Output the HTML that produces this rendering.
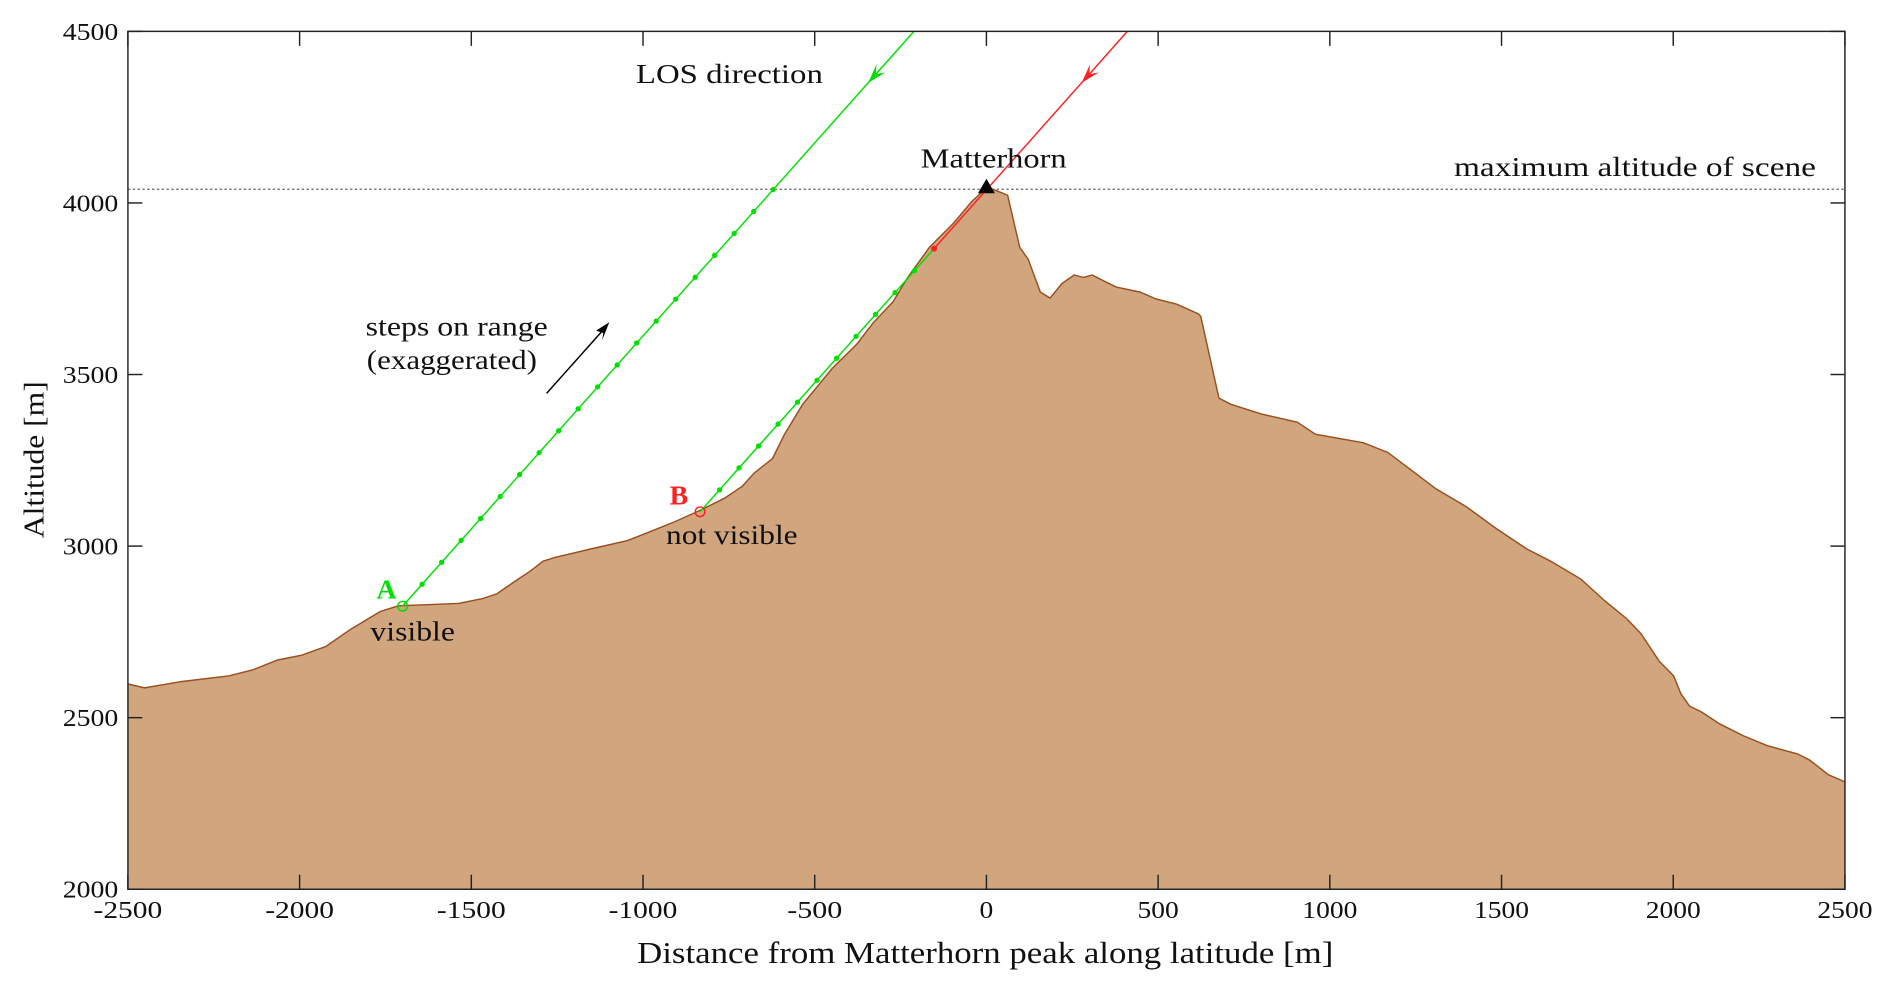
<!DOCTYPE html>
<html><head><meta charset="utf-8"><style>
html,body{margin:0;padding:0;background:#fff;}
svg{display:block;font-family:"Liberation Serif",serif;}
</style></head><body>
<svg id="chart" width="1892" height="990" viewBox="0 0 1568 820.5" preserveAspectRatio="none" xmlns="http://www.w3.org/2000/svg"></svg>
<script>
const terrainX=[-2500,-2451,-2345,-2205,-2135,-2064,-1994,-1924,-1854,-1766,-1713,-1537,-1467,-1425,-1379,-1327,-1291,-1256,-1151,-1045,-975,-905,-834,-764,-711,-676,-623,-588,-535,-448,-377,-331,-272,-229,-166,-96,-43,2,44,62,97,122,157,185,220,255,283,308,343,378,448,494,554,617,624,677,712,800,905,958,1098,1169,1239,1309,1397,1485,1573,1643,1731,1801,1865,1906,1959,2001,2022,2047,2082,2135,2205,2275,2363,2398,2451,2500];
const terrainY=[2598,2587,2605,2622,2640,2668,2682,2707,2756,2809,2826,2833,2847,2861,2893,2928,2956,2967,2992,3016,3044,3072,3104,3139,3174,3213,3255,3326,3413,3519,3589,3649,3712,3783,3871,3941,4004,4046,4030,4022,3871,3835,3740,3723,3765,3790,3783,3790,3772,3755,3740,3720,3705,3677,3670,3431,3413,3385,3361,3326,3301,3273,3220,3167,3115,3051,2992,2956,2904,2840,2788,2745,2665,2622,2570,2534,2517,2482,2447,2418,2394,2376,2334,2313];
const xTicks=[-2500,-2000,-1500,-1000,-500,0,500,1000,1500,2000,2500];
const yTicks=[2000,2500,3000,3500,4000,4500];
const pointA=[-1700,2825];
const pointB=[-834,3100];
const losSlope=1.125;
const stepDx=56.8;
const stepsA=19;
const stepsB=12;
const maxAlt=4040;
const peak=[0,4046];

const L=106,R=1529,T=26,B=737;
const X=v=>L+(v+2500)/5000*(R-L);
const Y=v=>B-(v-2000)/2500*(B-T);
const NS="http://www.w3.org/2000/svg";
const svg=document.getElementById('chart');
function el(tag,attrs,parent){const e=document.createElementNS(NS,tag);for(const k in attrs)e.setAttribute(k,attrs[k]);(parent||svg).appendChild(e);return e;}
function txt(s,attrs){const e=el('text',attrs);e.textContent=s;return e;}

let d='M'+X(terrainX[0])+','+Y(2000);
terrainX.forEach((x,i)=>{d+=' L'+X(x).toFixed(1)+','+Y(terrainY[i]).toFixed(1);});
d+=' L'+X(2500)+','+Y(2000)+' Z';
const area=el('path',{d:d,fill:'#d1a57e',stroke:'none'});


let d2='M'+terrainX.map((x,i)=>X(x).toFixed(1)+','+Y(terrainY[i]).toFixed(1)).join(' L');
const ln=el('path',{d:d2,fill:'none',stroke:'#9a4f1e','stroke-width':1.2});



const ml=el('line',{x1:L,x2:R,y1:Y(maxAlt),y2:Y(maxAlt),stroke:'#666','stroke-width':1,'stroke-dasharray':'2,2'});



const topXA=pointA[0]+(4500-pointA[1])/losSlope;
const la=el('line',{x1:X(pointA[0]),y1:Y(pointA[1]),x2:X(topXA),y2:Y(4500),stroke:'#00e000','stroke-width':1.2});


for(let i=1;i<=stepsA;i++){const x=pointA[0]+i*stepDx,y=pointA[1]+i*stepDx*losSlope;
const c=el('circle',{cx:X(x),cy:Y(y),r:2.2,fill:'#00e000'});

}
const redX=pointB[0]+stepsB*stepDx,redY=pointB[1]+stepsB*stepDx*losSlope;
const lb=el('line',{x1:X(pointB[0]),y1:Y(pointB[1]),x2:X(redX),y2:Y(redY),stroke:'#00e000','stroke-width':1.2});


for(let i=1;i<stepsB;i++){const x=pointB[0]+i*stepDx,y=pointB[1]+i*stepDx*losSlope;
const c=el('circle',{cx:X(x),cy:Y(y),r:2.2,fill:'#00e000'});

}
const topXB=redX+(4500-redY)/losSlope;
const lr=el('line',{x1:X(redX),y1:Y(redY),x2:X(topXB),y2:Y(4500),stroke:'#ff2020','stroke-width':1.2});


const rd=el('circle',{cx:X(redX),cy:Y(redY),r:2.5,fill:'#ff2020'});



// arrowheads pointing down-left along the line
function arrow(x0,y0,color,name){const px=X(x0),py=Y(y0);
const ux0=X(x0+1)-px,uy0=Y(y0+losSlope)-py;const n=Math.hypot(ux0,uy0);
const ux=ux0/n,uy=uy0/n; // up-right unit
const nx=-uy,ny=ux;const Lh=16,W=5;
const p=[[px,py],[px+ux*Lh+nx*W,py+uy*Lh+ny*W],[px+ux*Lh*0.6,py+uy*Lh*0.6],[px+ux*Lh-nx*W,py+uy*Lh-ny*W]];
const a=el('polygon',{points:p.map(q=>q.map(v=>v.toFixed(1)).join(',')).join(' '),fill:color});

}
arrow(pointA[0]+(4350-pointA[1])/losSlope,4350,'#00e000','los-arrow-green');
arrow(redX+(4350-redY)/losSlope,4350,'#ff2020','los-arrow-red');

const ca=el('circle',{cx:X(pointA[0]),cy:Y(pointA[1]),r:4,fill:'none',stroke:'#00e000','stroke-width':1.2});


const cb=el('circle',{cx:X(pointB[0]),cy:Y(pointB[1]),r:4,fill:'none',stroke:'#ff2020','stroke-width':1.2});



const px=X(peak[0]),py=Y(peak[1]);
const tri=el('polygon',{points:`${px},${py-7} ${px-7},${py+5} ${px+7},${py+5}`,fill:'#000'});



const ba=el('line',{x1:453,y1:326,x2:503,y2:270,stroke:'#000','stroke-width':1.2});


const bh=el('polygon',{points:'505,267 494,274 500,276 499,282',fill:'#000'});



const box=el('rect',{x:L,y:T,width:R-L,height:B-T,fill:'none',stroke:'#222','stroke-width':1.2});


xTicks.forEach(v=>{const x=X(v);
const t1=el('line',{x1:x,x2:x,y1:B,y2:B-12,stroke:'#222','stroke-width':1.2});


const t2=el('line',{x1:x,x2:x,y1:T,y2:T+12,stroke:'#222','stroke-width':1.2});


const s=String(v);
const l=txt(s,{x:x,y:B+24,'text-anchor':'middle','font-size':20,fill:'#111',textLength:s.length*11.4,lengthAdjust:'spacingAndGlyphs'});

});
yTicks.forEach(v=>{const y=Y(v);
const t1=el('line',{x1:L,x2:L+12,y1:y,y2:y,stroke:'#222','stroke-width':1.2});


const t2=el('line',{x1:R,x2:R-12,y1:y,y2:y,stroke:'#222','stroke-width':1.2});


const l=txt(String(v),{x:L-8,y:y+7,'text-anchor':'end','font-size':20,fill:'#111',textLength:46,lengthAdjust:'spacingAndGlyphs'});

});

function label(s,x,y,w,name,extra){const t=txt(s,Object.assign({x:x,y:y,'font-size':23,fill:'#111'},w?{textLength:w,lengthAdjust:'spacingAndGlyphs'}:{},extra||{}));

}
label('Distance from Matterhorn peak along latitude [m]',528,798,577,'x-axis-title',{'font-size':25});
const yt=txt('Altitude [m]',{x:0,y:0,'font-size':24,fill:'#111','text-anchor':'middle',textLength:130,lengthAdjust:'spacingAndGlyphs',transform:'translate(36,381) rotate(-90)'});


label('LOS direction',527,69,155,'los-direction-label');
label('Matterhorn',763,139,121,'matterhorn-label');
label('maximum altitude of scene',1205,146,300,'max-altitude-label');
label('steps on range',303,278,151,'steps-label');
label('(exaggerated)',304,306,141,'exaggerated-label');
label('A',312,496,0,'point-a-label',{fill:'#00e000','font-weight':'bold'});
label('visible',307,531,70,'visible-label');
label('B',555,418,0,'point-b-label',{fill:'#ff2020','font-weight':'bold'});
label('not visible',552,451,109,'not-visible-label');
</script>
</body></html>
